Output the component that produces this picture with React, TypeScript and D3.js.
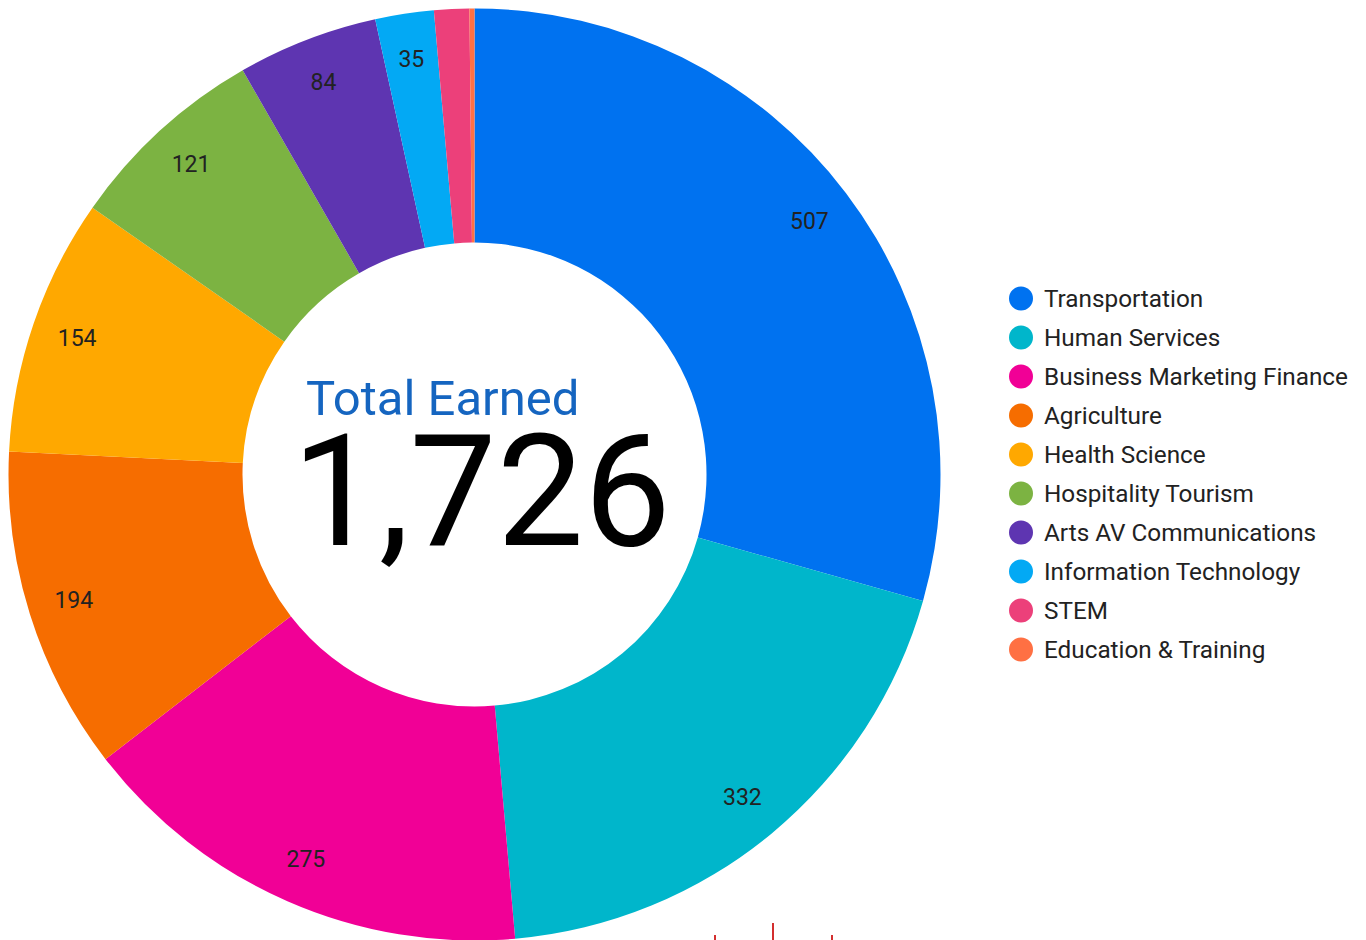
import React from "react";
import * as d3 from "d3";

const categories = [
  "Transportation",
  "Human Services",
  "Business Marketing Finance",
  "Agriculture",
  "Health Science",
  "Hospitality Tourism",
  "Arts AV Communications",
  "Information Technology",
  "STEM",
  "Education & Training",
];
const values = [507, 332, 275, 194, 154, 121, 84, 35, 21, 3];
const colors = [
  "#0072f0",
  "#00b6cb",
  "#f10096",
  "#f66d00",
  "#ffa800",
  "#7cb342",
  "#5e35b1",
  "#03a9f4",
  "#ec407a",
  "#ff7043",
];
const centerTitle = "Total Earned";
const markerTicks = [715, 773, 832];
const markerHeights = [5, 17, 5];

export default function App() {
  const W = 1366;
  const H = 940;
  const cx = 474.5;
  const cy = 474.5;
  const outerR = 466;
  const innerR = 232;
  const labelR = 420;

  const total = d3.sum(values);
  const pie = d3.pie<number>().sort(null).value((d) => d);
  const arcs = pie(values);
  const arc = d3.arc<d3.PieArcDatum<number>>().innerRadius(innerR).outerRadius(outerR);
  const labelArc = d3.arc<d3.PieArcDatum<number>>().innerRadius(labelR).outerRadius(labelR);

  const legendY = d3.scaleLinear().domain([0, 1]).range([298.5, 337.5]);
  const fmt = d3.format(",");

  return (
    <svg
      width={W}
      height={H}
      style={{ position: "absolute", left: 0, top: 0, background: "#fff" }}
      fontFamily="Roboto, sans-serif"
    >
      <rect width={W} height={H} fill="#fff" />
      <g transform={`translate(${cx},${cy})`}>
        {arcs.map((a, i) => (
          <path key={i} d={arc(a) || ""} fill={colors[i]} />
        ))}
        {arcs.map((a, i) => {
          if (values[i] < 30) return null;
          const [x, y] = labelArc.centroid(a);
          return (
            <text
              key={"l" + i}
              x={x}
              y={y}
              textAnchor="middle"
              dominantBaseline="central"
              fontSize={23}
              fill="#222"
            >
              {values[i]}
            </text>
          );
        })}
      </g>
      <text x={306} y={415} fontSize={49} fill="#1565c0">
        {centerTitle}
      </text>
      <text x={292} y={545} fontSize={155} fill="#000">
        {fmt(total)}
      </text>
      {categories.map((c, i) => (
        <g key={"lg" + i} transform={`translate(0,${legendY(i)})`}>
          <circle cx={1021} cy={0} r={12} fill={colors[i]} />
          <text x={1044} y={0} dominantBaseline="central" fontSize={24.3} fill="#222">
            {c}
          </text>
        </g>
      ))}
      {markerTicks.map((x, i) => (
        <line
          key={"m" + i}
          x1={x}
          x2={x}
          y1={H - markerHeights[i]}
          y2={H}
          stroke="#d32f2f"
          strokeWidth={2}
        />
      ))}
    </svg>
  );
}
